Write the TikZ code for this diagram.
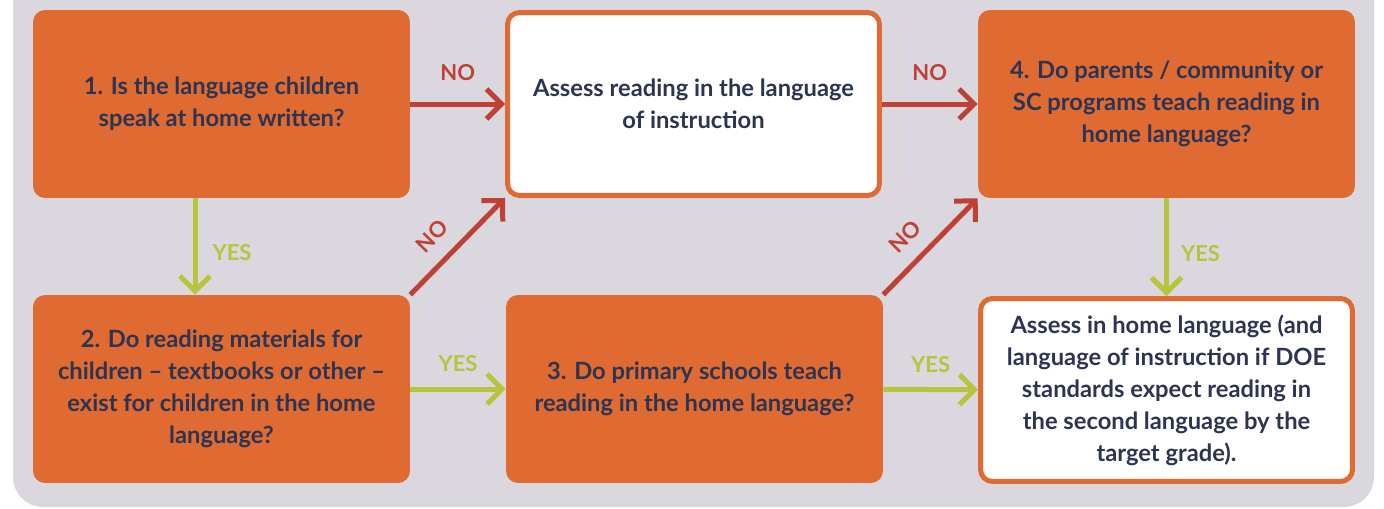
\documentclass[tikz,border=0pt]{standalone}
\usepackage{fontspec}
\setmainfont{Lato}
\usetikzlibrary{arrows.meta}
\definecolor{panel}{RGB}{218,215,223}
\definecolor{boxorange}{RGB}{223,107,51}
\definecolor{noline}{RGB}{190,65,55}
\definecolor{yesline}{RGB}{184,196,60}
\definecolor{ink}{RGB}{43,52,82}

\begin{document}
\begin{tikzpicture}[x=0.02cm, y=-0.02cm,
	question/.style={fill=boxorange, rounded corners=0.24cm, minimum width=7.54cm, minimum height=3.76cm, inner sep=0pt, align=center, text=ink, font=\bfseries\fontsize{13.5}{18.2}\selectfont},
	outcome/.style={question, fill=white, draw=boxorange, line width=0.1cm, minimum width=7.44cm, minimum height=3.66cm},
	no/.style={noline, line width=0.1cm, -{Straight Barb[length=0.3cm, width=0.6cm]}},
	yes/.style={yesline, line width=0.1cm, -{Straight Barb[length=0.3cm, width=0.6cm]}},
	nolabel/.style={text=noline, inner sep=0pt, font=\bfseries\fontsize{12.5}{12.5}\selectfont},
	yeslabel/.style={text=yesline, inner sep=0pt, font=\bfseries\fontsize{12.5}{12.5}\selectfont}]
	\useasboundingbox (0,0) rectangle (1384,508);
	\fill[panel, rounded corners=0.6cm] (13,-40) rectangle (1374,507);

	% decision boxes and outcomes
	\node[question] (written) at (221.5,104) {1. Is the language children\\speak at home written?};
	\node[outcome] (instr) at (693.5,104) {Assess reading in the language\\of instruction};
	\node[question] (community) at (1166.5,104) {4. Do parents / community or\\SC programs teach reading in\\home language?};
	\node[question] (materials) at (221.5,389) {2. Do reading materials for\\children -- textbooks or other --\\exist for children in the home\\language?};
	\node[question] (schools) at (694.5,389) {3. Do primary schools teach\\reading in the home language?};
	\node[outcome] (home) at (1166.5,390) {Assess in home language (and\\language of instruction if DOE\\standards expect reading in\\the second language by the\\target grade).};

	% NO branches
	\draw[no] (written) -- (instr) node[midway, yshift=0.62cm, nolabel] {NO};
	\draw[no] (instr) -- (community) node[midway, yshift=0.62cm, nolabel] {NO};
	\foreach \a/\b in {materials/instr, schools/community} {\draw[no] (\a.north east) -- (\b.south west) node[pos=0.42, sloped, above=0.3cm, nolabel] {NO};}

	% YES branches
	\draw[yes] ([xshift=-0.53cm]written.south) -- ([xshift=-0.53cm]materials.north) node[midway, xshift=0.74cm, yshift=-0.13cm, yeslabel] {YES};
	\draw[yes] (community) -- (home) node[midway, xshift=0.68cm, yshift=-0.13cm, yeslabel] {YES};
	\draw[yes] (materials) -- (schools) node[midway, yshift=0.5cm, yeslabel] {YES};
	\draw[yes] (schools) -- (home) node[midway, yshift=0.5cm, yeslabel] {YES};
\end{tikzpicture}
\end{document}
